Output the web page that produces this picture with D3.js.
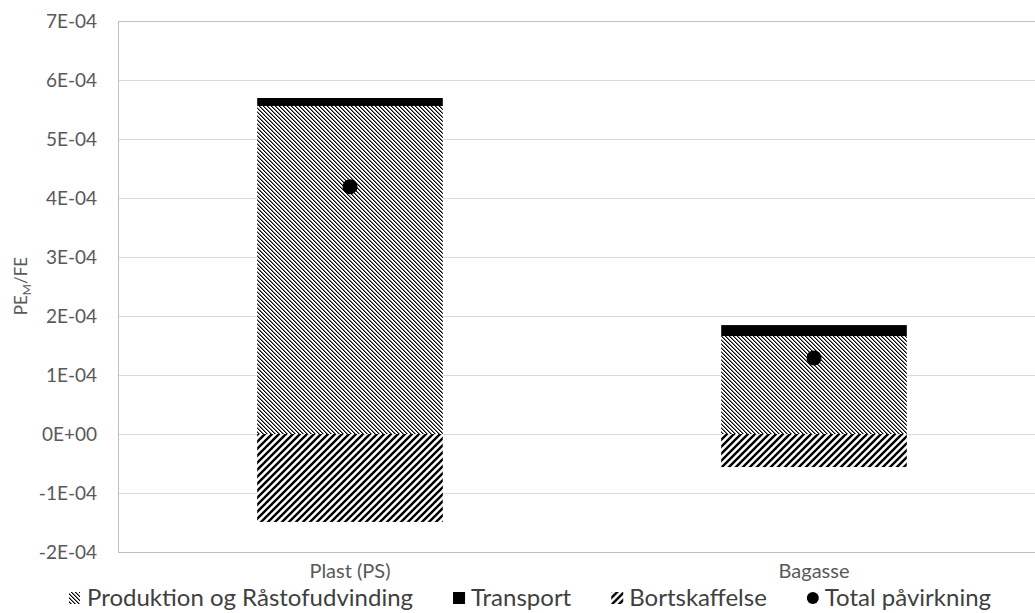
<!DOCTYPE html>
<html><head><meta charset="utf-8">
<script src="https://cdn.jsdelivr.net/npm/d3@7"></script>
<style>
html,body{margin:0;padding:0;background:#fff;}
svg{display:block;}
svg text{font-family:Lato,"Open Sans",sans-serif;}
</style></head>
<body><svg id="chart" width="1035" height="613"></svg>
<script>
const categories = ["Plast (PS)", "Bagasse"];
const produktion = [5.56e-4, 1.66e-4];
const transport = [0.135e-4, 0.186e-4];
const bortskaffelse = [-1.49e-4, -0.56e-4];
const total = [4.19e-4, 1.29e-4];
const yTicks = [-2e-4,-1e-4,0,1e-4,2e-4,3e-4,4e-4,5e-4,6e-4,7e-4];
const legendLabels = ["Produktion og Råstofudvinding","Transport","Bortskaffelse","Total påvirkning"];

const svg = d3.select("#chart");
const m = {left:118, top:21, right:-11, bottom:61};
const W = 1035, H = 613;
const iw = W - m.left - m.right, ih = H - m.top - m.bottom;
const FONT = 'Lato, "Open Sans", sans-serif';

const defs = svg.append("defs");
// fine downward diagonal (pixel pattern)
const p1 = defs.append("pattern").attr("id","prod").attr("patternUnits","userSpaceOnUse").attr("width",4).attr("height",4);
p1.append("rect").attr("width",4).attr("height",4).attr("fill","#fff");
d3.range(4).forEach(k=>{
  p1.append("rect").attr("x",k).attr("y",k).attr("width",1).attr("height",1).attr("fill","#000").attr("shape-rendering","crispEdges");
  p1.append("rect").attr("x",(k+1)%4).attr("y",k).attr("width",1).attr("height",1).attr("fill","#7a7a7a").attr("shape-rendering","crispEdges");
});
// wide upward diagonal
const p2 = defs.append("pattern").attr("id","disp").attr("patternUnits","userSpaceOnUse").attr("width",7).attr("height",7);
p2.append("rect").attr("width",7).attr("height",7).attr("fill","#fff");
p2.append("path").attr("d","M-1,8 L8,-1 M-2,2 L2,-2 M5,9 L9,5").attr("stroke","#000").attr("stroke-width",2.4);

const g = svg.append("g").attr("transform",`translate(${m.left},${m.top})`);
const x = d3.scaleBand().domain(categories).range([0,iw]).paddingInner(0.6).paddingOuter(0.3);
const y = d3.scaleLinear().domain([-2e-4,7e-4]).range([ih,0]);

const fmt = v => {
  if (v === 0) return "0E+00";
  const e = Math.floor(Math.log10(Math.abs(v)) + 1e-9);
  const mant = Math.round(v / Math.pow(10,e));
  return mant + "E" + (e<0?"-":"+") + String(Math.abs(e)).padStart(2,"0");
};

// gridlines
g.append("g").selectAll("line").data(yTicks).join("line")
  .attr("x1",0).attr("x2",iw).attr("y1",d=>y(d)).attr("y2",d=>y(d))
  .attr("stroke","#d9d9d9").attr("stroke-width",1).attr("shape-rendering","crispEdges");
// border
g.append("rect").attr("x",0).attr("y",0).attr("width",iw).attr("height",ih)
  .attr("fill","none").attr("stroke","#bfbfbf").attr("shape-rendering","crispEdges");

const yAxis = d3.axisLeft(y).tickValues(yTicks).tickFormat(fmt).tickSize(0).tickPadding(21);
const ya = g.append("g").call(yAxis).attr("font-family",FONT);
ya.select(".domain").remove();
ya.selectAll("text").attr("fill","#595959").attr("font-size","19px");

const xAxis = d3.axisBottom(x).tickSize(0).tickPadding(12);
const xa = g.append("g").attr("transform",`translate(0,${ih})`).call(xAxis).attr("font-family",FONT);
xa.select(".domain").remove();
xa.selectAll("text").attr("fill","#595959").attr("font-size","20px");

// bars
const bw = x.bandwidth();
g.selectAll("rect.prod").data(categories).join("rect").attr("class","prod")
  .attr("x",d=>x(d)).attr("width",bw)
  .attr("y",(d,i)=>y(produktion[i])).attr("height",(d,i)=>y(0)-y(produktion[i]))
  .attr("fill","url(#prod)");
g.selectAll("rect.trans").data(categories).join("rect").attr("class","trans")
  .attr("x",d=>x(d)).attr("width",bw)
  .attr("y",(d,i)=>y(produktion[i]+transport[i])).attr("height",(d,i)=>y(produktion[i])-y(produktion[i]+transport[i]))
  .attr("fill","#000");
g.selectAll("rect.disp").data(categories).join("rect").attr("class","disp")
  .attr("x",d=>x(d)).attr("width",bw)
  .attr("y",y(0)).attr("height",(d,i)=>y(bortskaffelse[i])-y(0))
  .attr("fill","url(#disp)");
g.selectAll("circle.tot").data(categories).join("circle").attr("class","tot")
  .attr("cx",d=>x(d)+bw/2).attr("cy",(d,i)=>y(total[i])).attr("r",7.5).attr("fill","#000");

// y title
svg.append("text").attr("transform","translate(27,286) rotate(-90)")
  .attr("text-anchor","middle").attr("fill","#595959").attr("font-size","17px")
  .html('PE<tspan font-size="12px" dy="4">M</tspan><tspan dy="-4">/FE</tspan>');

// legend
const lg = svg.append("g");
const ly = 598;
const fs = 24;
const icons = [
  (gg)=>gg.append("rect").attr("x",0).attr("y",-6).attr("width",11).attr("height",12).attr("fill","url(#prod)"),
  (gg)=>gg.append("rect").attr("x",0).attr("y",-6).attr("width",12).attr("height",12).attr("fill","#000"),
  (gg)=>gg.append("rect").attr("x",0).attr("y",-6).attr("width",12).attr("height",12).attr("fill","url(#disp)"),
  (gg)=>gg.append("circle").attr("cx",6).attr("cy",0).attr("r",6).attr("fill","#000")
];
const items = legendLabels.map((t,i)=>{
  const gg = lg.append("g");
  icons[i](gg);
  const tx = gg.append("text").attr("x",18).attr("dy","0.35em").attr("fill","#404040")
    .attr("font-size",fs+"px").text(t);
  return {gg, w: 18 + tx.node().getComputedTextLength()};
});
const gap = 40;
const totalW = d3.sum(items, d=>d.w) + gap*(items.length-1);
let cx = 530 - totalW/2;
items.forEach(it=>{ it.gg.attr("transform",`translate(${cx},${ly})`); cx += it.w + gap; });
</script></body></html>
